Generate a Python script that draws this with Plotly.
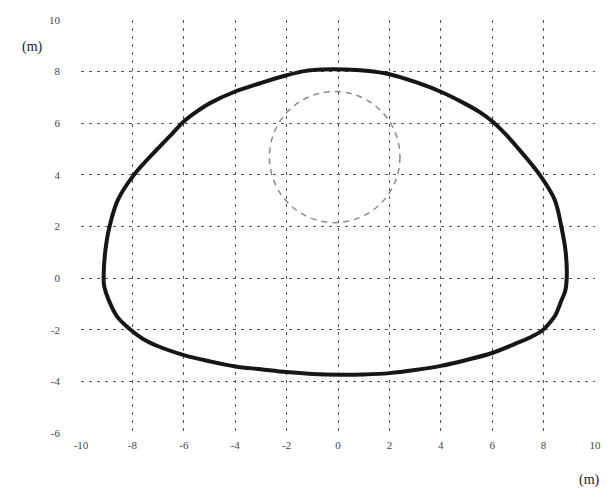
import plotly.graph_objects as go

# Tunnel outline (m), clockwise from the crown
outline_x = [-0.6, 0.3, 1.1, 2.0, 3.0, 4.0, 4.9, 5.5, 6.0, 6.5, 6.93, 7.85, 8.43, 8.69, 8.86, 8.9,
             8.84, 8.7, 8.45, 8.22, 7.95, 7.55, 7.0, 6.0, 5.0, 4.0, 3.0, 2.0, 1.0, 0.0,
             -1.0, -2.0, -3.0, -4.0, -5.0, -6.0, -7.0, -7.6, -8.07, -8.6, -8.93, -9.1,
             -9.12, -9.06, -8.89, -8.56, -7.94, -6.93, -6.45, -6.0, -5.5, -4.98, -4.0, -3.0,
             -2.0, -1.3, -0.6]
outline_y = [8.08, 8.08, 8.03, 7.9, 7.6, 7.22, 6.78, 6.44, 6.08, 5.6, 5.12, 4.0, 3.04, 2.0, 1.0, 0.0,
             -0.5, -0.85, -1.45, -1.75, -2.03, -2.26, -2.5, -2.9, -3.17, -3.4, -3.56, -3.68, -3.73, -3.74,
             -3.71, -3.64, -3.53, -3.42, -3.22, -2.98, -2.64, -2.35, -2.0, -1.48, -0.83, -0.3,
             0.0, 1.0, 2.0, 3.04, 4.0, 5.1, 5.6, 6.07, 6.45, 6.78, 7.23, 7.56,
             7.86, 8.02, 8.08]

# Inner circle (m)
circle_center = (-0.13, 4.69)
circle_radius = 2.54

x_ticks = [-10, -8, -6, -4, -2, 0, 2, 4, 6, 8, 10]
y_ticks = [-6, -4, -2, 0, 2, 4, 6, 8, 10]

fig = go.Figure()
fig.add_trace(go.Scatter(x=outline_x, y=outline_y, mode="lines",
                         line=dict(color="#161616", width=4, shape="spline", smoothing=1.0),
                         showlegend=False, hoverinfo="skip"))

cx, cy = circle_center
fig.add_shape(type="circle", xref="x", yref="y",
              x0=cx - circle_radius, x1=cx + circle_radius,
              y0=cy - circle_radius, y1=cy + circle_radius,
              line=dict(color="#8a8a8a", width=1.5, dash="6px,5px"))

font = dict(family="Liberation Serif", size=11, color="#444")
fig.update_xaxes(range=[-10, 10], tickvals=x_ticks, ticktext=[str(v) for v in x_ticks],
                 showgrid=True, gridcolor="#555", gridwidth=1, griddash="3px,5px",
                 zeroline=False, showline=False, ticks="", tickfont=font, ticklabelstandoff=4,
                 automargin=False)
fig.update_yaxes(range=[-6, 10], tickvals=y_ticks, ticktext=[str(v) for v in y_ticks],
                 showgrid=True, gridcolor="#555", gridwidth=1, griddash="3px,5px",
                 zeroline=False, showline=False, ticks="", tickfont=font, ticklabelstandoff=20,
                 automargin=False)

fig.add_annotation(text="(m)", xref="paper", yref="paper", x=-0.0953, y=0.9346,
                   xanchor="center", yanchor="middle", showarrow=False,
                   font=dict(family="Liberation Serif", size=14, color="#222"))
fig.add_annotation(text="(m)", xref="paper", yref="paper", x=0.990, y=-0.114,
                   xanchor="center", yanchor="middle", showarrow=False,
                   font=dict(family="Liberation Serif", size=14, color="#222"))

# page body has an 8px default margin, so the figure is sized to fit the window
fig.update_layout(width=604, height=481, margin=dict(l=73, r=17, t=12, b=56),
                  paper_bgcolor="white", plot_bgcolor="white")
fig.write_html("out.html")
